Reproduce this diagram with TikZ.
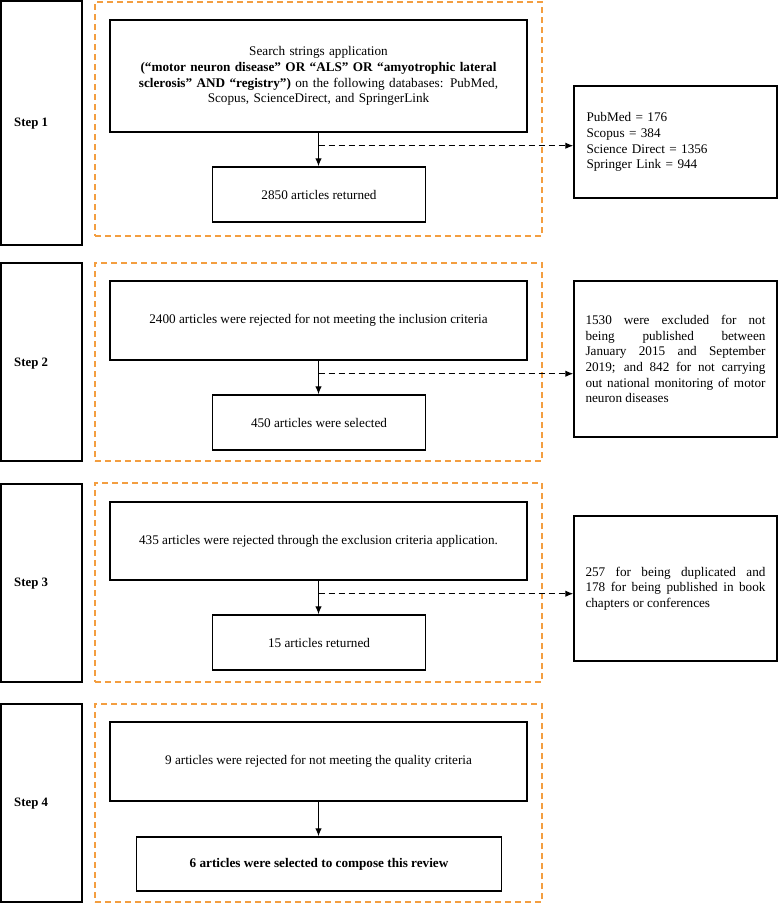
\documentclass[tikz,border=0pt]{standalone}
\usepackage{fontspec}
\setmainfont{Liberation Serif}
\usetikzlibrary{arrows.meta}
\definecolor{orng}{RGB}{243,158,64}
\begin{document}
\begin{tikzpicture}[x=1pt,y=-1pt,
  every node/.style={font=\fontsize{13.2}{15.7}\selectfont},
  box/.style={draw=black, line width=1.4pt, rectangle, inner sep=0pt, align=center},
  stepbox/.style={draw=black, line width=1.4pt, rectangle, inner sep=0pt},
  grp/.style={draw=orng, line width=1.4pt, dash pattern=on 6pt off 4pt, rectangle, inner sep=0pt},
  steplabel/.style={anchor=west, inner sep=0pt, font=\fontsize{12.8}{15}\selectfont\bfseries},
  arr/.style={-{Latex[length=8pt,width=6.5pt]}, line width=1.2pt},
  darr/.style={-{Latex[length=8pt,width=6.5pt]}, line width=1.2pt, dash pattern=on 6pt off 4pt}
]
\useasboundingbox (0,0) rectangle (778,903);

% step boxes
\node[stepbox, minimum width=81pt, minimum height=244pt] (s1) at (41.5,123) {};
\node[stepbox, minimum width=81pt, minimum height=198pt] (s2) at (41.5,362) {};
\node[stepbox, minimum width=81pt, minimum height=198pt] (s3) at (41.5,583) {};
\node[stepbox, minimum width=81pt, minimum height=198pt] (s4) at (41.5,803) {};
\node[steplabel] (l1) at (14,124) {Step 1};
\node[steplabel] (l2) at (14,364) {Step 2};
\node[steplabel] (l3) at (14,584) {Step 3};
\node[steplabel] (l4) at (14,804) {Step 4};

% orange groups
\node[grp, minimum width=447pt, minimum height=234pt] (g1) at (318.5,119) {};
\node[grp, minimum width=447pt, minimum height=198pt] (g2) at (318.5,362) {};
\node[grp, minimum width=447pt, minimum height=199pt] (g3) at (318.5,582.5) {};
\node[grp, minimum width=447pt, minimum height=198pt] (g4) at (318.5,803) {};

% step 1
\node[box, minimum width=417pt, minimum height=112pt, text width=405pt] (a1) at (318.5,76)
 {Search strings application\\
  \textbf{(“motor neuron disease” OR “ALS” OR “amyotrophic lateral}\\
  \textbf{sclerosis” AND “registry”)} on the following databases: PubMed,\\
  Scopus, ScienceDirect, and SpringerLink};
\node[box, minimum width=213.5pt, minimum height=55pt] (b1) at (319,194.5) {2850 articles returned};
\node[box, minimum width=203pt, minimum height=112pt, text width=178pt, align=left] (r1) at (675.5,142)
 {PubMed = 176\\Scopus = 384\\Science Direct = 1356\\Springer Link = 944};

% step 2
\node[box, minimum width=417pt, minimum height=79pt] (a2) at (318.5,320.5)
 {2400 articles were rejected for not meeting the inclusion criteria};
\node[box, minimum width=213.5pt, minimum height=55pt] (b2) at (319,422.5) {450 articles were selected};
\node[box, minimum width=203pt, minimum height=156pt, text width=180pt, align=justify] (r2) at (675.5,359)
 {1530 were excluded for not\linebreak being published between\linebreak January 2015 and September\linebreak 2019; and 842 for not carrying\linebreak out national monitoring of motor\linebreak neuron diseases};

% step 3
\node[box, minimum width=417pt, minimum height=78pt] (a3) at (318.5,541)
 {435 articles were rejected through the exclusion criteria application.};
\node[box, minimum width=213.5pt, minimum height=55pt] (b3) at (319,642.5) {15 articles returned};
\node[box, minimum width=203pt, minimum height=145pt, text width=180pt, align=justify] (r3) at (675.5,588.5)
 {257 for being duplicated and\linebreak 178 for being published in book\linebreak chapters or conferences};

% step 4
\node[box, minimum width=417pt, minimum height=79pt] (a4) at (318.5,761.5)
 {9 articles were rejected for not meeting the quality criteria};
\node[box, minimum width=365.5pt, minimum height=54pt, font=\fontsize{13.2}{15.7}\selectfont\bfseries] (b4) at (319,864)
 {6 articles were selected to compose this review};

% connectors
\foreach \i in {1,2,3,4}{
  \draw[arr] (a\i.south) -- (a\i.south |- b\i.north);
}
\foreach \i in {1,2,3}{
  \coordinate (c\i) at ([yshift=-13pt]a\i.south);
  \draw[darr] (c\i) -- (r\i.west |- c\i);
}
\end{tikzpicture}
\end{document}
